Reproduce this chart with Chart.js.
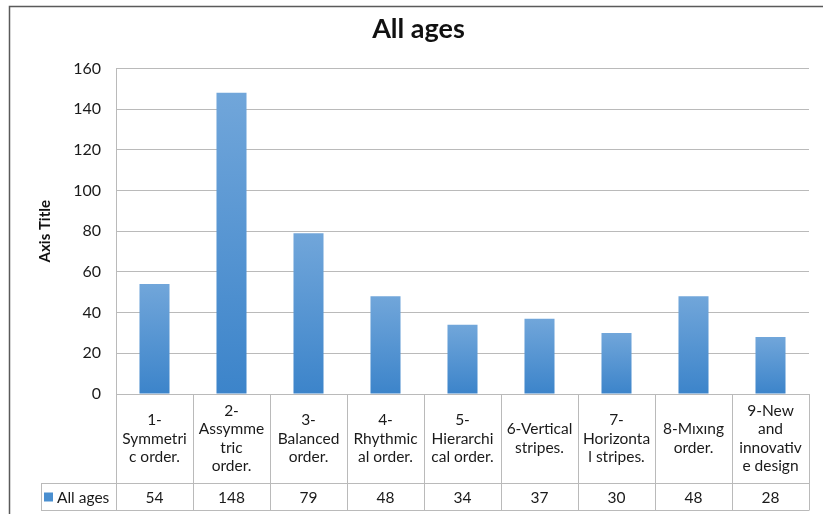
<!DOCTYPE html>
<html>
<head>
<meta charset="utf-8">
<script src="https://cdn.jsdelivr.net/npm/chart.js@4/dist/chart.umd.min.js"></script>
<style>
  html, body { margin: 0; padding: 0; background: #ffffff; }
  #wrap { width: 823px; height: 514px; }
</style>
</head>
<body>
<div id="wrap"><canvas id="chart" width="823" height="514"></canvas></div>
<script>
// Categories, each split into the lines shown in the data table
const categoryLines = [
  ["1-", "Symmetri", "c order."],
  ["2-", "Assymme", "tric", "order."],
  ["3-", "Balanced", "order."],
  ["4-", "Rhythmic", "al order."],
  ["5-", "Hierarchi", "cal order."],
  ["6-Vertical", "stripes."],
  ["7-", "Horizonta", "l stripes."],
  ["8-Mıxıng", "order."],
  ["9-New", "and", "innovativ", "e design"]
];
const categories = categoryLines.map(l => l.join(" "));
const seriesName = "All ages";
const allAges = [54, 148, 79, 48, 34, 37, 30, 48, 28];
const yTicks = [0, 20, 40, 60, 80, 100, 120, 140, 160];
const chartTitle = "All ages";
const yAxisTitle = "Axis Title";

const FONT = "Lato, 'Open Sans', sans-serif";
const GRID = "#bababa";
const TABLE_ROW1 = 89;   // height of the category row
const TABLE_ROW2 = 27;   // height of the value row
const LEGEND_X = 41;     // left edge of the legend cell

// Outer frame of the chart object
const framePlugin = {
  id: "frame",
  beforeDraw(chart) {
    const ctx = chart.ctx;
    ctx.save();
    ctx.fillStyle = "#ffffff";
    ctx.fillRect(0, 0, chart.width, chart.height);
    ctx.strokeStyle = "#5a5a5a";
    ctx.lineWidth = 1.5;
    ctx.strokeRect(9.5, 6.5, chart.width + 20, chart.height + 20);
    ctx.restore();
  }
};

// Data table under the plot: category labels, legend key and values
const dataTablePlugin = {
  id: "dataTable",
  afterDraw(chart) {
    const ctx = chart.ctx;
    const area = chart.chartArea;
    const x = chart.scales.x;
    const n = categories.length;
    const step = (area.right - area.left) / n;
    const top = area.bottom;
    const mid = top + TABLE_ROW1;
    const bot = mid + TABLE_ROW2;
    ctx.save();
    ctx.strokeStyle = GRID;
    ctx.lineWidth = 1;
    ctx.beginPath();
    ctx.moveTo(LEGEND_X, Math.round(mid) + 0.5);
    ctx.lineTo(area.right, Math.round(mid) + 0.5);
    ctx.moveTo(LEGEND_X, Math.round(bot) + 0.5);
    ctx.lineTo(area.right, Math.round(bot) + 0.5);
    ctx.moveTo(LEGEND_X + 0.5, Math.round(mid) + 0.5);
    ctx.lineTo(LEGEND_X + 0.5, Math.round(bot) + 0.5);
    for (let i = 0; i <= n; i++) {
      const cx = Math.round(area.left + i * step) + 0.5;
      ctx.moveTo(cx, top);
      ctx.lineTo(cx, Math.round(bot) + 0.5);
    }
    ctx.stroke();

    ctx.fillStyle = "#1a1a1a";
    ctx.font = "15.5px " + FONT;
    ctx.textAlign = "center";
    ctx.textBaseline = "middle";
    const lh = 18.5;
    for (let i = 0; i < n; i++) {
      const cx = x.getPixelForValue(i);
      const lines = categoryLines[i];
      const y0 = (top + mid) / 2 - (lines.length - 1) * lh / 2;
      lines.forEach((t, k) => ctx.fillText(t, cx, y0 + k * lh));
      ctx.fillText(String(allAges[i]), cx, (mid + bot) / 2 + 1);
    }
    ctx.fillStyle = "#4a8fd0";
    ctx.fillRect(LEGEND_X + 3, (mid + bot) / 2 - 4, 9, 9);
    ctx.fillStyle = "#1a1a1a";
    ctx.textAlign = "left";
    ctx.fillText(seriesName, LEGEND_X + 16, (mid + bot) / 2 + 1);
    ctx.restore();
  }
};

// Each bar fades from a light blue at its top to a deeper blue at its base
function barGradient(context) {
  const chart = context.chart;
  const y = chart.scales && chart.scales.y;
  if (!y || typeof context.raw !== "number") return "#5a96d2";
  const yTop = y.getPixelForValue(context.raw);
  const yBase = y.getPixelForValue(0);
  if (!isFinite(yTop) || !isFinite(yBase) || yTop === yBase) return "#5a96d2";
  const g = chart.ctx.createLinearGradient(0, yTop, 0, yBase);
  g.addColorStop(0, "#71a6da");
  g.addColorStop(1, "#3c84ca");
  return g;
}

new Chart(document.getElementById("chart"), {
  type: "bar",
  data: {
    labels: categories,
    datasets: [{
      label: seriesName,
      data: allAges,
      backgroundColor: barGradient,
      borderWidth: 0,
      categoryPercentage: 1,
      barPercentage: 0.39
    }]
  },
  plugins: [framePlugin, dataTablePlugin],
  options: {
    responsive: false,
    animation: false,
    layout: { padding: { left: 28, right: 14, top: 6, bottom: 120 } },
    plugins: {
      legend: { display: false },
      tooltip: { enabled: false },
      title: {
        display: true,
        text: chartTitle,
        color: "#111111",
        font: { family: FONT, size: 27, weight: "bold", lineHeight: 1.2 },
        padding: { top: 7, bottom: 23 }
      }
    },
    scales: {
      x: {
        display: false,
        grid: { display: false }
      },
      y: {
        min: 0,
        max: 160,
        afterBuildTicks(scale) {
          scale.ticks = yTicks.map(v => ({ value: v }));
        },
        afterFit(scale) { scale.width = 88; },
        border: { display: true, color: GRID, width: 1 },
        grid: { color: GRID, lineWidth: 1, drawTicks: false },
        ticks: {
          color: "#1a1a1a",
          padding: 15,
          font: { family: FONT, size: 16 }
        },
        title: {
          display: true,
          text: yAxisTitle,
          color: "#111111",
          font: { family: FONT, size: 15, weight: "bold" },
          padding: { top: 8, bottom: 0 }
        }
      }
    }
  }
});
</script>
</body>
</html>
